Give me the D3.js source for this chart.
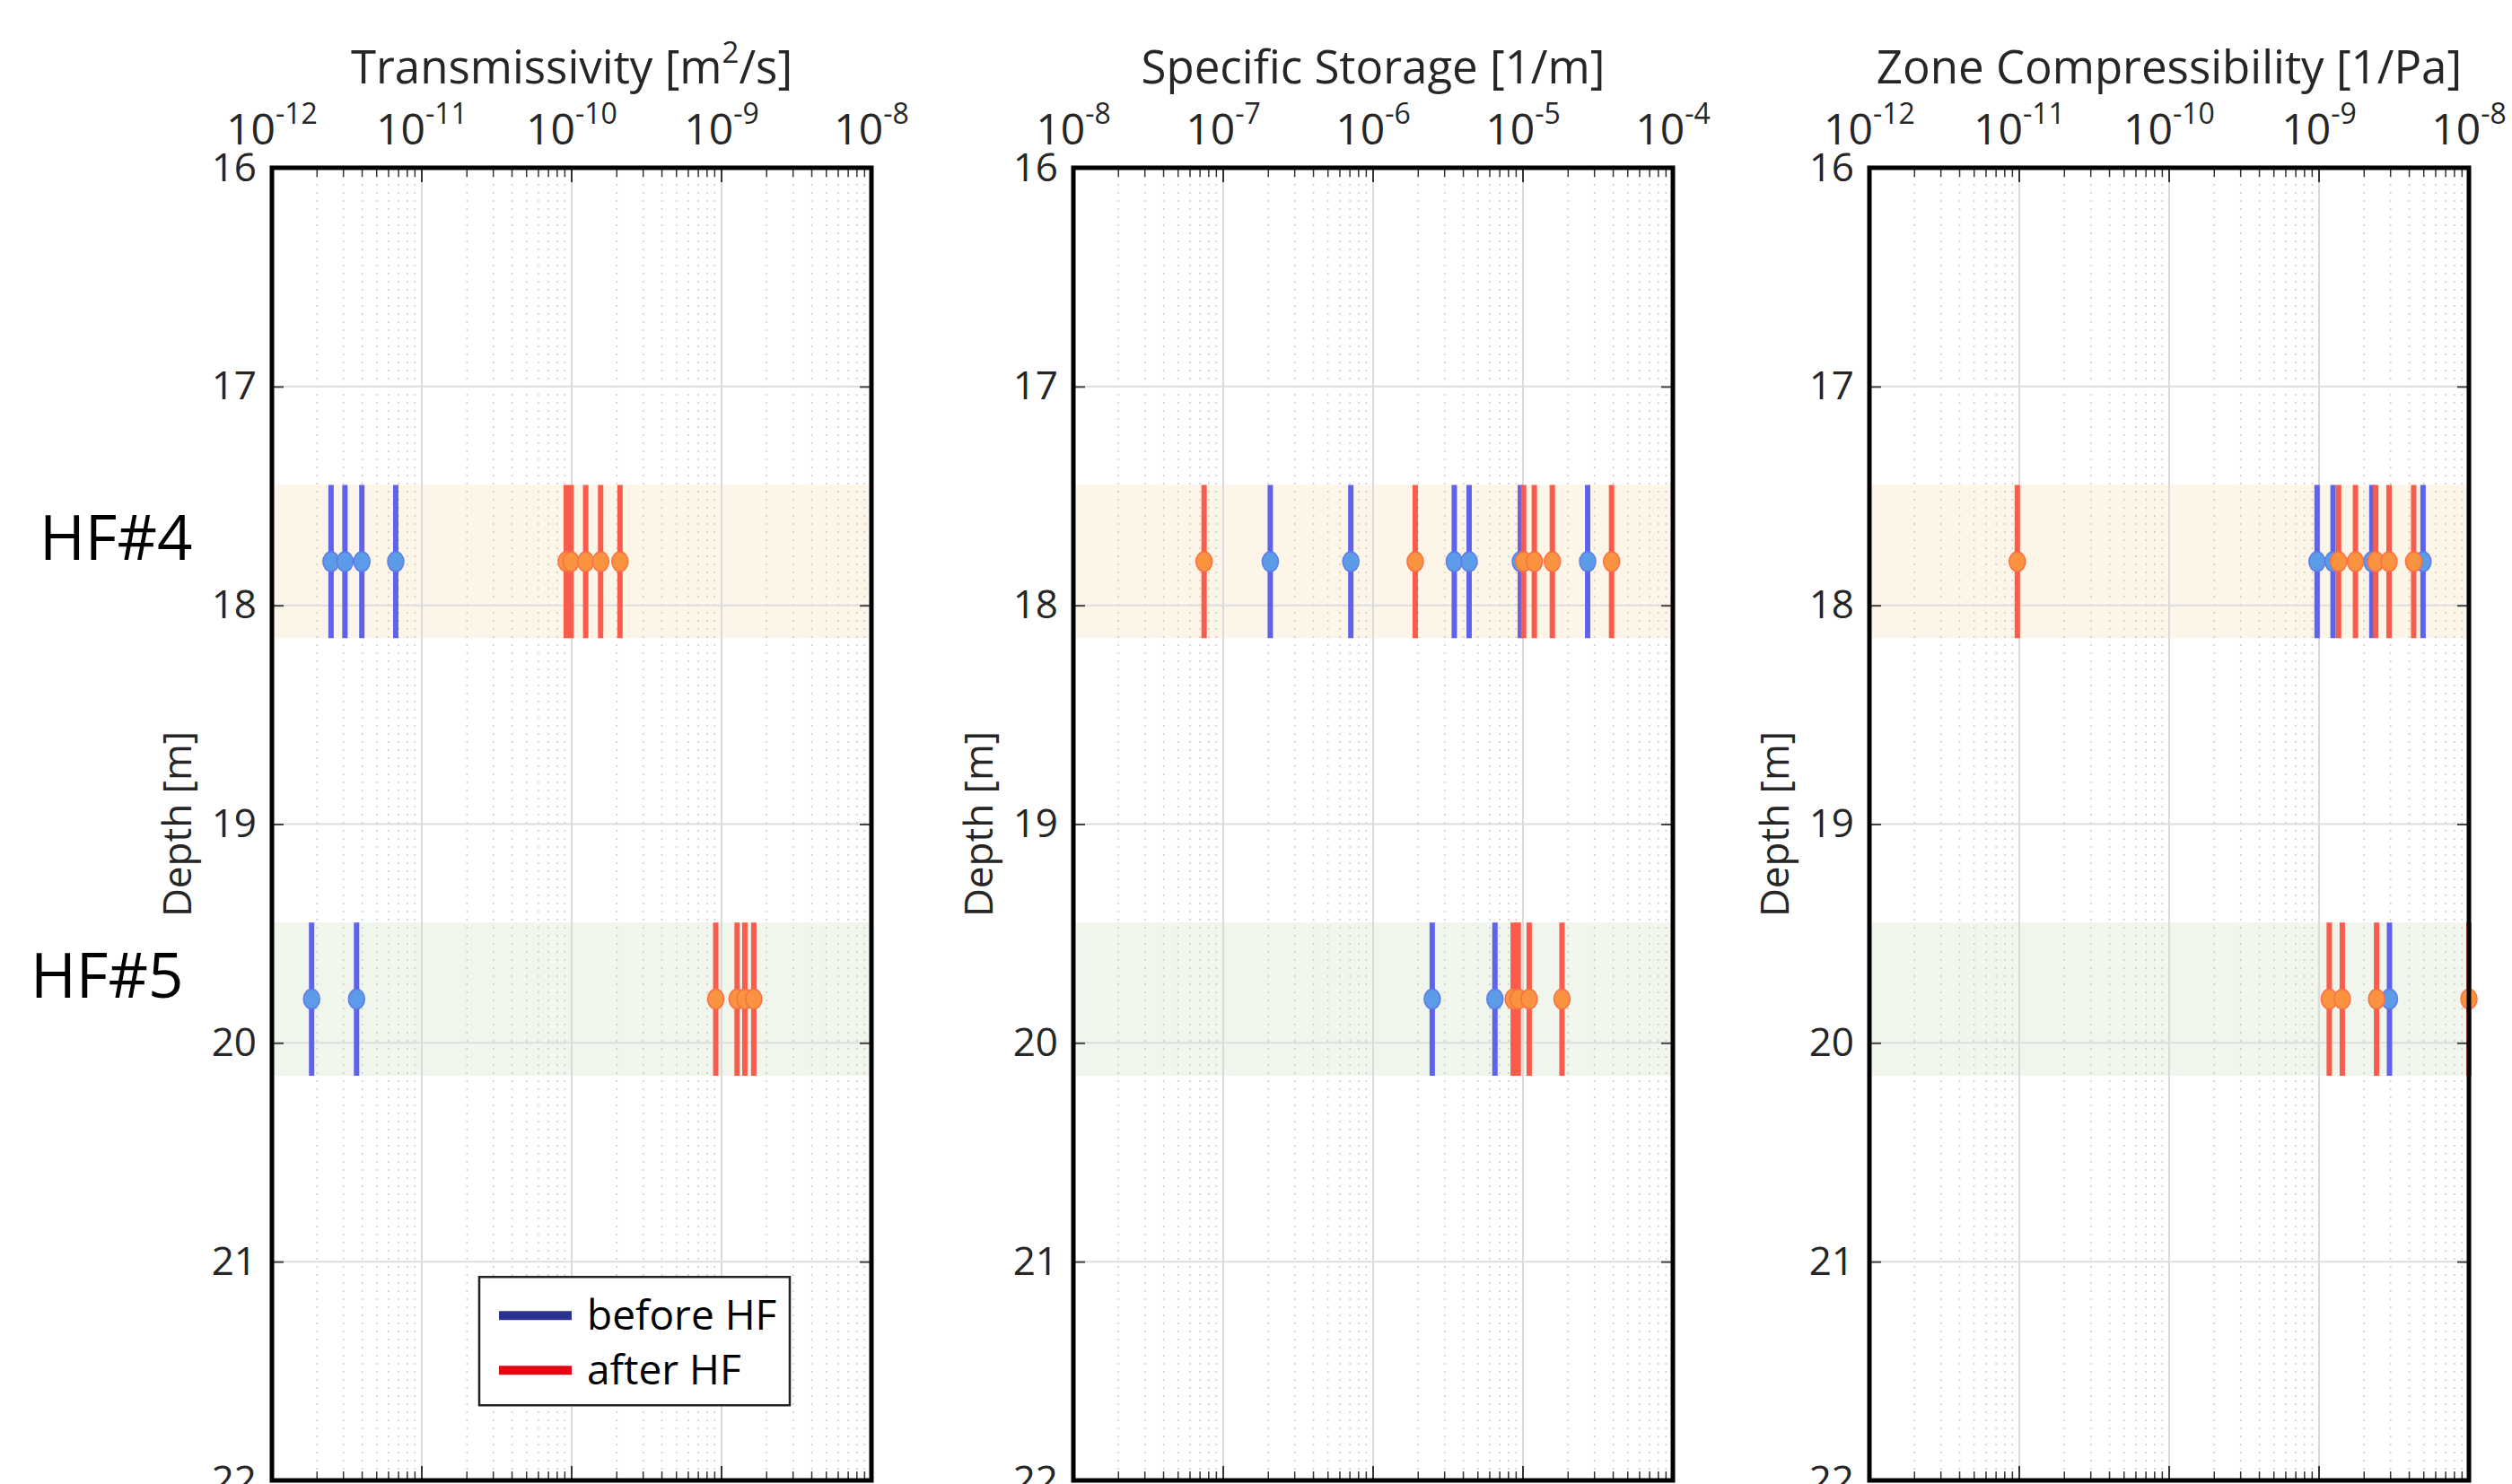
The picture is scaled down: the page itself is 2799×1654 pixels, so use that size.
<!DOCTYPE html>
<html>
<head>
<meta charset="utf-8">
<script src="https://cdn.jsdelivr.net/npm/d3@7"></script>
<style>
  html, body { margin: 0; padding: 0; background: #fff; }
  svg { display: block; font-family: "Open Sans", "Noto Sans", sans-serif; }
</style>
</head>
<body>
<svg id="chart" width="2799" height="1654"></svg>
<script>
// ---------------- DATA ----------------
const depthTicks = [16, 17, 18, 19, 20, 21, 22];
const zoneNames = ["HF#4", "HF#5"];
const zoneCenters = [17.8, 19.8];
const zoneTops = [17.45, 19.45];
const zoneBottoms = [18.15, 20.15];

const panelTitles = ["Transmissivity [m", "Specific Storage [1/m]", "Zone Compressibility [1/Pa]"];
const panelTitleSup = ["2", "", ""];
const panelTitleTail = ["/s]", "", ""];
const panelExpMin = [-12, -8, -12];
const panelExpMax = [-8, -4, -8];

// Transmissivity [m2/s]
const transBeforeHF4 = [2.48e-12, 3.07e-12, 3.98e-12, 6.7e-12];
const transAfterHF4  = [9.2e-11, 9.9e-11, 1.24e-10, 1.56e-10, 2.1e-10];
const transBeforeHF5 = [1.84e-12, 3.67e-12];
const transAfterHF5  = [9.15e-10, 1.27e-9, 1.43e-9, 1.64e-9];

// Specific storage [1/m]
const ssBeforeHF4 = [2.06e-7, 7.1e-7, 3.48e-6, 4.37e-6, 9.6e-6, 2.7e-5];
const ssAfterHF4  = [7.45e-8, 1.91e-6, 1.01e-5, 1.19e-5, 1.57e-5, 3.9e-5];
const ssBeforeHF5 = [2.48e-6, 6.5e-6];
const ssAfterHF5  = [8.6e-6, 9.3e-6, 1.1e-5, 1.82e-5];

// Zone compressibility [1/Pa]
const compBeforeHF4 = [9.7e-10, 1.24e-9, 2.25e-9, 4.94e-9];
const compAfterHF4  = [9.7e-12, 1.35e-9, 1.75e-9, 2.39e-9, 2.93e-9, 4.28e-9];
const compBeforeHF5 = [2.95e-9];
const compAfterHF5  = [1.17e-9, 1.43e-9, 2.42e-9, 1.0e-8];

const legendLabels = ["before HF", "after HF"];

const panelSeries = [
  { before: [transBeforeHF4, transBeforeHF5], after: [transAfterHF4, transAfterHF5] },
  { before: [ssBeforeHF4, ssBeforeHF5], after: [ssAfterHF4, ssAfterHF5] },
  { before: [compBeforeHF4, compBeforeHF5], after: [compAfterHF4, compAfterHF5] }
];

// ---------------- LAYOUT / STYLE ----------------
const panelLefts = [303, 1196, 2083];
const panelWidth = 668;
const plotTop = 187, plotBottom = 1650;
const textColor = "#262626";
const bandColors = ["#fdf6e8", "#f1f6ec"];
const style = {
  before: { line: "#5f63ec", dotFill: "#5b9be8", dotStroke: "#5f7ae8" },
  after:  { line: "#fb5b4a", dotFill: "#f9933f", dotStroke: "#fb6f48" }
};

const svg = d3.select("#chart");
svg.append("rect").attr("width", 2799).attr("height", 1654).attr("fill", "#fff");

const y = d3.scaleLinear().domain([16, 22]).range([plotTop, plotBottom]);

panelLefts.forEach((left, pi) => {
  const x = d3.scaleLog()
    .domain([Math.pow(10, panelExpMin[pi]), Math.pow(10, panelExpMax[pi])])
    .range([left, left + panelWidth]);
  const g = svg.append("g");

  const decades = d3.range(panelExpMin[pi], panelExpMax[pi] + 1).map(e => Math.pow(10, e));
  const minors = [];
  d3.range(panelExpMin[pi], panelExpMax[pi]).forEach(e => {
    for (let m = 2; m <= 9; m++) minors.push(m * Math.pow(10, e));
  });

  // bands
  g.selectAll("rect.band").data(zoneNames).join("rect")
    .attr("class", "band")
    .attr("x", x.range()[0]).attr("width", panelWidth)
    .attr("y", (d, i) => y(zoneTops[i]))
    .attr("height", (d, i) => y(zoneBottoms[i]) - y(zoneTops[i]))
    .attr("fill", (d, i) => bandColors[i]);

  // minor grid (dotted)
  g.selectAll("line.minor").data(minors).join("line")
    .attr("x1", d => x(d)).attr("x2", d => x(d))
    .attr("y1", plotTop).attr("y2", plotBottom)
    .attr("stroke", "#c4c4c4").attr("stroke-width", 1.6)
    .attr("stroke-dasharray", "2,7").attr("opacity", 0.8);
  // major grid
  g.selectAll("line.major").data(decades).join("line")
    .attr("x1", d => x(d)).attr("x2", d => x(d))
    .attr("y1", plotTop).attr("y2", plotBottom)
    .attr("stroke", "#dadada").attr("stroke-width", 2);
  // horizontal grid
  g.selectAll("line.hgrid").data(depthTicks).join("line")
    .attr("x1", x.range()[0]).attr("x2", x.range()[1])
    .attr("y1", d => y(d)).attr("y2", d => y(d))
    .attr("stroke", "#dedede").attr("stroke-width", 2);

  // error bars and points
  ["before", "after"].forEach(key => {
    const st = style[key];
    panelSeries[pi][key].forEach((vals, zi) => {
      const zg = g.append("g");
      zg.selectAll("line").data(vals).join("line")
        .attr("x1", d => x(d)).attr("x2", d => x(d))
        .attr("y1", y(zoneTops[zi])).attr("y2", y(zoneBottoms[zi]))
        .attr("stroke", st.line).attr("stroke-width", 6);
      zg.selectAll("ellipse").data(vals).join("ellipse")
        .attr("cx", d => x(d)).attr("cy", y(zoneCenters[zi]))
        .attr("rx", 9).attr("ry", 11)
        .attr("fill", st.dotFill).attr("stroke", st.dotStroke).attr("stroke-width", 1.5);
    });
  });

  // top / bottom axis ticks (inside)
  const axTop = g.append("g").attr("transform", `translate(0,${plotTop})`);
  axTop.selectAll("line.mt").data(minors).join("line")
    .attr("x1", d => x(d)).attr("x2", d => x(d)).attr("y1", 0).attr("y2", 10)
    .attr("stroke", "#333").attr("stroke-width", 1.5);
  axTop.selectAll("line.Mt").data(decades).join("line")
    .attr("x1", d => x(d)).attr("x2", d => x(d)).attr("y1", 0).attr("y2", 16)
    .attr("stroke", "#333").attr("stroke-width", 2);
  const axBot = g.append("g").attr("transform", `translate(0,${plotBottom})`);
  axBot.selectAll("line.mt").data(minors).join("line")
    .attr("x1", d => x(d)).attr("x2", d => x(d)).attr("y1", 0).attr("y2", -10)
    .attr("stroke", "#333").attr("stroke-width", 1.5);
  axBot.selectAll("line.Mt").data(decades).join("line")
    .attr("x1", d => x(d)).attr("x2", d => x(d)).attr("y1", 0).attr("y2", -16)
    .attr("stroke", "#333").attr("stroke-width", 2);

  // top tick labels 10^n
  const lbl = g.selectAll("text.xt").data(decades).join("text")
    .attr("x", d => x(d)).attr("y", 161)
    .attr("text-anchor", "middle")
    .attr("fill", textColor).attr("font-size", 48);
  lbl.append("tspan").text("10");
  lbl.append("tspan").attr("dy", -23).attr("font-size", 32)
    .text(d => "-" + Math.abs(Math.round(Math.log10(d))));

  // y axis (left, ticks inside) and right ticks
  const yAxis = d3.axisLeft(y).tickValues(depthTicks).tickSize(-13).tickPadding(17).tickFormat(d3.format("d"));
  const ya = g.append("g").attr("transform", `translate(${left},0)`).call(yAxis);
  ya.select(".domain").remove();
  ya.selectAll(".tick line").attr("stroke", "#444").attr("stroke-width", 2);
  ya.selectAll(".tick text").attr("font-size", 44).attr("fill", textColor)
    .attr("font-family", "Open Sans, sans-serif");
  const yr = g.append("g").attr("transform", `translate(${left + panelWidth},0)`)
    .call(d3.axisRight(y).tickValues(depthTicks).tickSize(-13).tickFormat(""));
  yr.select(".domain").remove();
  yr.selectAll(".tick line").attr("stroke", "#444").attr("stroke-width", 2);

  // frame
  g.append("rect").attr("x", left).attr("y", plotTop)
    .attr("width", panelWidth).attr("height", plotBottom - plotTop)
    .attr("fill", "none").attr("stroke", "#000").attr("stroke-width", 5);

  // title
  const t = g.append("text").attr("x", left + panelWidth / 2).attr("y", 93)
    .attr("text-anchor", "middle").attr("fill", textColor).attr("font-size", 51);
  t.append("tspan").text(panelTitles[pi]);
  if (panelTitleSup[pi]) {
    t.append("tspan").attr("dy", -23).attr("font-size", 33).text(panelTitleSup[pi]);
    t.append("tspan").attr("dy", 23).text(panelTitleTail[pi]);
  }

  // depth label
  g.append("text")
    .attr("transform", `translate(${left - 90},${y(19)}) rotate(-90)`)
    .attr("text-anchor", "middle").attr("fill", textColor).attr("font-size", 44)
    .text("Depth [m]");

  // legend in first panel
  if (pi === 0) {
    const lg = g.append("g").attr("transform", `translate(${left + 231},${y(21.07)})`);
    lg.append("rect").attr("width", 346).attr("height", 143)
      .attr("fill", "#fff").attr("stroke", "#222").attr("stroke-width", 2.5);
    const legColors = ["#2b3190", "#e30613"];
    legendLabels.forEach((lab, i) => {
      lg.append("line").attr("x1", 22).attr("x2", 103)
        .attr("y1", 43 + i * 61).attr("y2", 43 + i * 61)
        .attr("stroke", legColors[i]).attr("stroke-width", 10);
      lg.append("text").attr("x", 120).attr("y", 43 + i * 61 + 16)
        .attr("fill", "#000").attr("font-size", 46).text(lab);
    });
  }
});

// zone labels
svg.selectAll("text.zone").data(zoneNames).join("text")
  .attr("class", "zone")
  .attr("x", (d, i) => [44, 34][i])
  .attr("y", (d, i) => y(zoneCenters[i]) - 2)
  .attr("fill", "#000").attr("font-size", 69)
  .text(d => d);
</script>
</body>
</html>
